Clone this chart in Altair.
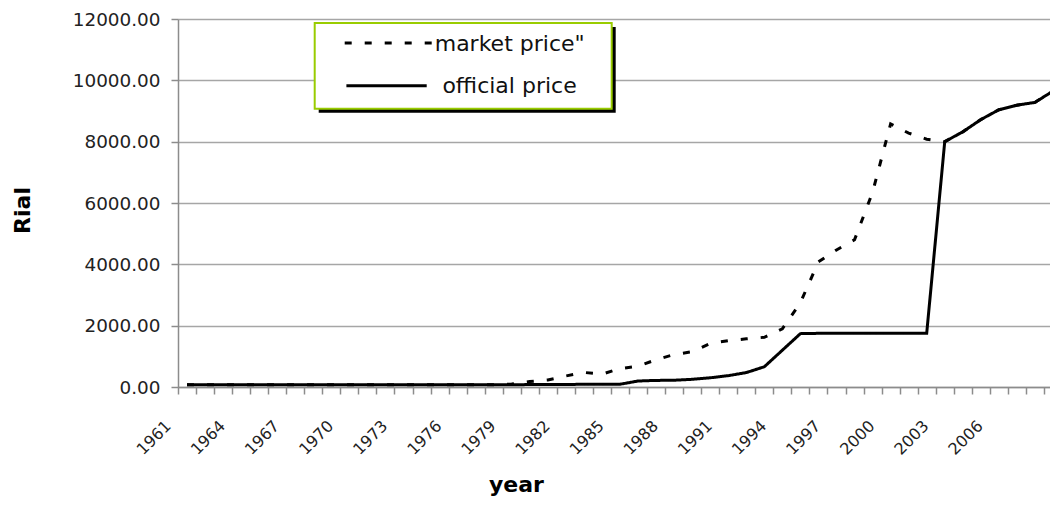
import json
import altair as alt
import pandas as pd

# ---------------- data ----------------
years = list(range(1961, 2010))

official_price = (
    [75] * 14
    + [70, 70, 71, 71, 71, 80, 80, 84, 87, 91, 90]
    + [195, 215, 220, 250, 300, 370, 470, 660, 1200, 1740]
    + [1750] * 7
    + [8000, 8320, 8720, 9040, 9190, 9280, 9650]
)

market_price = (
    [75] * 14
    + [70, 70, 71, 71]
    + [95, 180, 230, 360, 475, 420, 600, 680, 890, 1060, 1150, 1420, 1510,
       1570, 1620, 1900, 2750, 4080, 4470, 4800, 6350, 8580, 8280, 8080, 8000]
    + [8320, 8720, 9040, 9190, 9280, 9650]
)

series_names = ['market price"', 'official price']
label_years = list(range(1961, 2007, 3))
y_ticks = [0, 2000, 4000, 6000, 8000, 10000, 12000]

df = pd.DataFrame({
    "year": years * 2,
    "price": market_price + official_price,
    "series": [series_names[0]] * len(years) + [series_names[1]] * len(years),
})
leg_df = pd.DataFrame({"series": series_names})

FONT = "DejaVu Sans"
label_expr = f"indexof({json.dumps(label_years)}, datum.value) >= 0 ? datum.label : ''"

x_enc = alt.X(
    "year:O",
    bandPosition=0.5,
    scale=alt.Scale(type="band", range=[0, 884], paddingInner=0, paddingOuter=0),
    axis=alt.Axis(
        title="year",
        labelExpr=label_expr,
        labelAngle=315,
        labelAlign="right",
        labelBaseline="middle",
        labelOffset=-19,
        labelPadding=29,
        labelOverlap=False,
        labelBound=False,
        labelFontSize=16,
        tickBand="extent",
        tickSize=7,
        grid=False,
        titleX=338,
        titleY=104,
        titleBaseline="alphabetic",
        titleAlign="center",
        titleFontSize=22,
    ),
)

y_enc = alt.Y(
    "price:Q",
    scale=alt.Scale(domain=[0, 12000], nice=False),
    axis=alt.Axis(
        title="Rial",
        values=y_ticks,
        format=".2f",
        grid=True,
        tickSize=7,
        labelPadding=11,
        labelFontSize=18.4,
        titleAngle=270,
        titleX=-156,
        titleY=191,
        titleAlign="center",
        titleBaseline="middle",
        titleFontSize=22,
    ),
)

def line_layer(name, dash):
    return (
        alt.Chart(df)
        .transform_filter(alt.datum.series == name)
        .mark_line(color="black", strokeWidth=3, strokeDash=dash, strokeCap="butt")
        .encode(x=x_enc, y=y_enc)
    )

market_line = line_layer(series_names[0], [7, 13])
official_line = line_layer(series_names[1], [1, 0])

# ---------------- legend (drawn) ----------------
one = alt.Data(values=[{"a": 1}])
shadow = alt.Chart(one).mark_rect(fill="black").encode(
    x=alt.value(140.7), x2=alt.value(437.7), y=alt.value(8), y2=alt.value(93.7)
)
box = alt.Chart(one).mark_rect(fill="white", stroke="#99cc00", strokeWidth=2).encode(
    x=alt.value(136.7), x2=alt.value(433.7), y=alt.value(4), y2=alt.value(89.7)
)
leg_market_rule = (
    alt.Chart(leg_df).transform_filter(alt.datum.series == series_names[0])
    .mark_rule(color="black", strokeWidth=3, strokeDash=[7, 13], strokeCap="butt")
    .encode(x=alt.value(166.7), x2=alt.value(253.7), y=alt.value(24))
)
leg_official_rule = (
    alt.Chart(leg_df).transform_filter(alt.datum.series == series_names[1])
    .mark_rule(color="black", strokeWidth=3, strokeCap="butt")
    .encode(x=alt.value(168.4), x2=alt.value(248.7), y=alt.value(66.7))
)
leg_market_text = (
    alt.Chart(leg_df).transform_filter(alt.datum.series == series_names[0])
    .mark_text(align="left", baseline="alphabetic", font=FONT, fontSize=22, color="#111")
    .encode(x=alt.value(256.7), y=alt.value(32.4), text="series:N")
)
leg_official_text = (
    alt.Chart(leg_df).transform_filter(alt.datum.series == series_names[1])
    .mark_text(align="left", baseline="alphabetic", font=FONT, fontSize=22, color="#111")
    .encode(x=alt.value(264.4), y=alt.value(74), text="series:N")
)

chart = (
    alt.layer(
        market_line, official_line,
        shadow, box, leg_market_rule, leg_official_rule, leg_market_text, leg_official_text,
    )
    .properties(
        width=872,
        height=368,
        autosize=alt.AutoSizeParams(type="none"),
        padding={"left": 170, "top": 11, "right": 0, "bottom": 109},
        background="white",
    )
    .configure_view(strokeWidth=0)
    .configure_axis(
        labelFont=FONT,
        titleFont=FONT,
        labelColor="#222",
        titleColor="black",
        titleFontWeight="bold",
        domainColor="#8c8c8c",
        domainWidth=1.5,
        tickColor="#8c8c8c",
        tickWidth=1.5,
        gridColor="#a6a6a6",
        gridWidth=1.5,
    )
)

chart.save("out.html", embed_options={"renderer": "svg", "actions": False})
